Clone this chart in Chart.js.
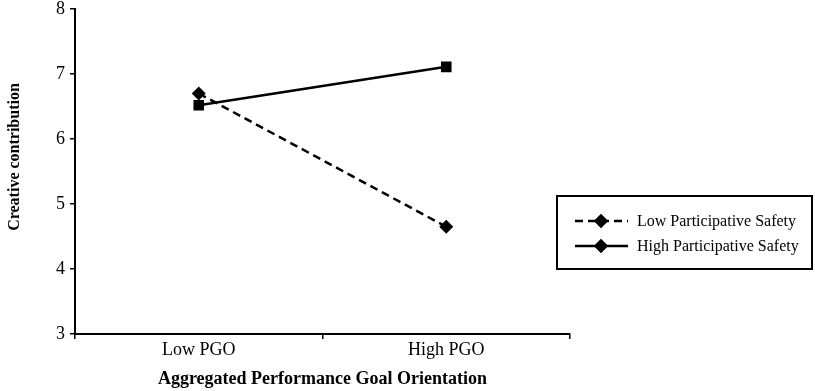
<!DOCTYPE html>
<html>
<head>
<meta charset="utf-8">
<script src="https://cdn.jsdelivr.net/npm/chart.js@4.4.0/dist/chart.umd.min.js"></script>
<style>
  html, body { margin: 0; padding: 0; background: #fff; }
  #wrap { width: 815px; height: 391px; }
</style>
</head>
<body>
<div id="wrap"><canvas id="chart" width="815" height="391"></canvas></div>
<script>
// Chart data
const categories = ['Low PGO', 'High PGO'];
const lowSafety = [6.70, 4.65];
const highSafety = [6.52, 7.11];
const yTicks = [3, 4, 5, 6, 7, 8];
const seriesNames = ['Low Participative Safety', 'High Participative Safety'];
const yTitle = 'Creative contribution';

const FONT = "'Liberation Serif', 'Times New Roman', serif";

// Boxed legend on the right + rotated y title, like the original
const extras = {
  id: 'extras',
  afterDraw(chart) {
    const c = chart.ctx;
    const x0 = 557, y0 = 196, x1 = 812, y1 = 269;
    c.save();
    c.strokeStyle = '#000';
    c.lineWidth = 2;
    c.strokeRect(x0, y0, x1 - x0, y1 - y0);
    c.font = '16px ' + FONT;
    c.textBaseline = 'middle';
    c.fillStyle = '#000';
    chart.data.datasets.forEach((ds, i) => {
      const y = 221 + i * 25;
      c.beginPath();
      c.setLineDash(ds.borderDash || []);
      c.lineWidth = ds.borderWidth;
      c.moveTo(575, y);
      c.lineTo(628, y);
      c.stroke();
      c.setLineDash([]);
      Chart.helpers.drawPoint(c, { pointStyle: 'rectRot', radius: 7, borderWidth: 0 }, 601, y);
      c.fill();
      c.fillText(ds.label, 637, y + 1);
    });

    // y axis title
    c.translate(15, 157);
    c.rotate(-Math.PI / 2);
    c.textAlign = 'center';
    c.font = 'bold 16px ' + FONT;
    c.fillText(yTitle, 0, 0);
    c.restore();
  }
};

new Chart(document.getElementById('chart'), {
  type: 'line',
  data: {
    labels: categories,
    datasets: [
      {
        label: seriesNames[0],
        data: lowSafety,
        borderColor: '#000',
        backgroundColor: '#000',
        borderWidth: 2.5,
        borderDash: [8, 5],
        pointStyle: 'rectRot',
        pointRadius: 7,
        pointBorderWidth: 0,
        fill: false,
        tension: 0
      },
      {
        label: seriesNames[1],
        data: highSafety,
        borderColor: '#000',
        backgroundColor: '#000',
        borderWidth: 2.5,
        pointStyle: 'rect',
        pointRadius: 7.5,
        pointBorderWidth: 0,
        fill: false,
        tension: 0
      }
    ]
  },
  options: {
    responsive: false,
    animation: false,
    devicePixelRatio: 1,
    layout: { padding: { top: 9, right: 245, left: 0, bottom: 0 } },
    plugins: {
      legend: { display: false },
      tooltip: { enabled: false }
    },
    scales: {
      x: {
        type: 'category',
        offset: true,
        grid: {
          offset: true,
          drawOnChartArea: false,
          drawTicks: true,
          tickLength: 5,
          color: '#000',
          lineWidth: 1.5
        },
        border: { color: '#000', width: 2 },
        ticks: { color: '#000', font: { family: FONT, size: 18 }, padding: 0 },
        title: {
          display: true,
          text: 'Aggregated Performance Goal Orientation',
          color: '#000',
          font: { family: FONT, size: 18, weight: 'bold' },
          padding: { top: 0, bottom: 1 }
        },
        afterFit(scale) { scale.height = 57; }
      },
      y: {
        min: 3,
        max: 8,
        afterBuildTicks(scale) { scale.ticks = yTicks.map(v => ({ value: v })); },
        grid: {
          drawOnChartArea: false,
          drawTicks: true,
          tickLength: 5,
          color: '#000',
          lineWidth: 1.5
        },
        border: { color: '#000', width: 2 },
        ticks: { color: '#000', font: { family: FONT, size: 18 }, padding: 5 },
        afterFit(scale) {
          scale.width = 75;
          scale.paddingTop = 0;
          scale.paddingBottom = 0;
        }
      }
    }
  },
  plugins: [extras]
});
</script>
</body>
</html>
